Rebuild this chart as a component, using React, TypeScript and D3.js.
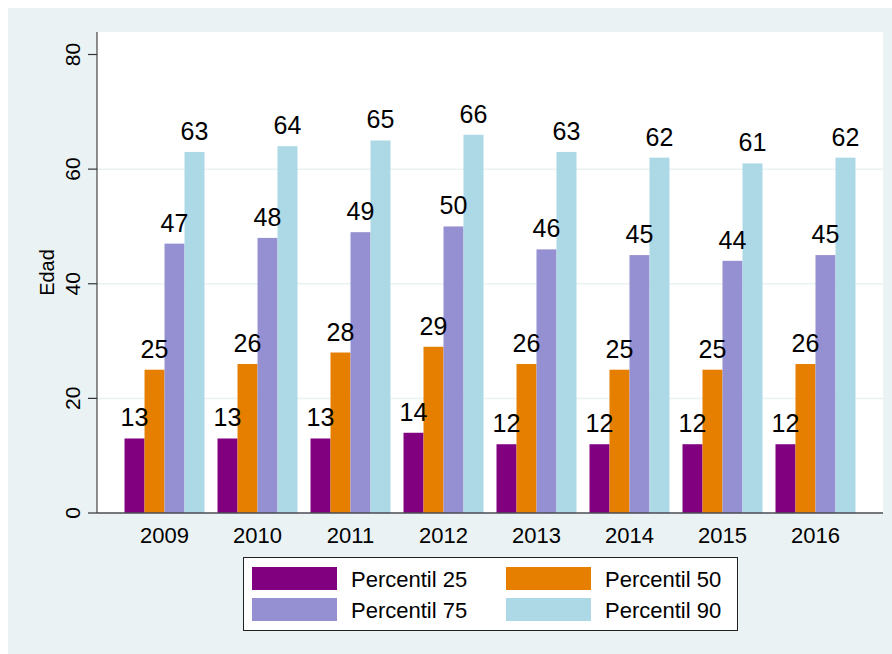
import { useMemo } from "react";
import * as d3 from "d3";

const YEARS = ["2009", "2010", "2011", "2012", "2013", "2014", "2015", "2016"];
const SERIES = ["Percentil 25", "Percentil 50", "Percentil 75", "Percentil 90"];
const P25 = [13, 13, 13, 14, 12, 12, 12, 12];
const P50 = [25, 26, 28, 29, 26, 25, 25, 26];
const P75 = [47, 48, 49, 50, 46, 45, 44, 45];
const P90 = [63, 64, 65, 66, 63, 62, 61, 62];
const Y_TICKS = [0, 20, 40, 60, 80];
const GRID_TICKS = [20, 40, 60];

const COLORS = ["#800080", "#e67e00", "#9590d1", "#add8e6"];
const BG = "#eaf2f3";
const FONT = "Liberation Sans, Arial, Helvetica, sans-serif";

const W = 884;
const H = 646;
const PLOT = { left: 89, right: 875, top: 24, bottom: 505 };

export default function App() {
  const values = [P25, P50, P75, P90];

  const x = useMemo(
    () =>
      d3
        .scaleBand<string>()
        .domain(YEARS)
        .range([PLOT.left, PLOT.right])
        .paddingInner(0.14)
        .paddingOuter(0.296),
    [],
  );
  const xs = useMemo(
    () => d3.scaleBand<string>().domain(SERIES).range([0, x.bandwidth()]),
    [x],
  );
  const y = useMemo(() => d3.scaleLinear().domain([0, 80]).range([PLOT.bottom, 46.5]), []);

  return (
    <svg
      width={W}
      height={H}
      style={{ position: "fixed", left: 8, top: 8, display: "block" }}
      fontFamily={FONT}
    >
      <rect x={0} y={0} width={W} height={H} fill={BG} />
      <rect
        x={PLOT.left}
        y={PLOT.top}
        width={PLOT.right - PLOT.left}
        height={PLOT.bottom - PLOT.top}
        fill="#fff"
      />

      {GRID_TICKS.map((t) => (
        <line
          key={t}
          x1={PLOT.left}
          x2={PLOT.right}
          y1={y(t)}
          y2={y(t)}
          stroke={BG}
          strokeWidth={1.5}
        />
      ))}

      {SERIES.map((s, si) =>
        YEARS.map((yr, i) => (
          <rect
            key={`${s}-${yr}`}
            x={(x(yr) ?? 0) + (xs(s) ?? 0)}
            y={y(values[si][i])}
            width={xs.bandwidth()}
            height={y(0) - y(values[si][i])}
            fill={COLORS[si]}
          />
        )),
      )}

      {SERIES.map((s, si) =>
        YEARS.map((yr, i) => (
          <text
            key={`lbl-${s}-${yr}`}
            x={(x(yr) ?? 0) + (xs(s) ?? 0) + xs.bandwidth() / 2}
            y={y(values[si][i]) - 12}
            textAnchor="middle"
            fontSize={25}
            fill="#000"
          >
            {values[si][i]}
          </text>
        )),
      )}

      {/* y axis */}
      <line x1={PLOT.left} x2={PLOT.left} y1={PLOT.top} y2={PLOT.bottom} stroke="#222" strokeWidth={1} />
      {Y_TICKS.map((t) => (
        <g key={`yt-${t}`}>
          <line x1={PLOT.left - 9} x2={PLOT.left} y1={y(t)} y2={y(t)} stroke="#333" strokeWidth={1.2} />
          <text
            transform={`translate(${PLOT.left - 17},${y(t)}) rotate(-90)`}
            textAnchor="middle"
            fontSize={21}
            fill="#000"
          >
            {t}
          </text>
        </g>
      ))}
      <text
        transform={`translate(46,${(PLOT.top + PLOT.bottom) / 2}) rotate(-90)`}
        textAnchor="middle"
        fontSize={20}
        fill="#000"
      >
        Edad
      </text>

      {/* x axis */}
      <line x1={PLOT.left} x2={PLOT.right} y1={PLOT.bottom} y2={PLOT.bottom} stroke="#4b4b55" strokeWidth={1.6} />
      {YEARS.map((yr) => (
        <text
          key={`xt-${yr}`}
          x={(x(yr) ?? 0) + x.bandwidth() / 2}
          y={535}
          textAnchor="middle"
          fontSize={22}
          fill="#000"
        >
          {yr}
        </text>
      ))}

      {/* legend */}
      <rect x={235.5} y={549.5} width={494} height={73} fill="#fff" stroke="#222" strokeWidth={1} />
      {SERIES.map((s, si) => {
        const col = si % 2;
        const row = Math.floor(si / 2);
        const sx = 244 + col * 254;
        const sy = 559 + row * 31;
        return (
          <g key={`lg-${s}`}>
            <rect x={sx} y={sy} width={85} height={23} fill={COLORS[si]} />
            <text x={sx + 99} y={sy + 19.5} fontSize={22} fill="#000">
              {s}
            </text>
          </g>
        );
      })}
    </svg>
  );
}
